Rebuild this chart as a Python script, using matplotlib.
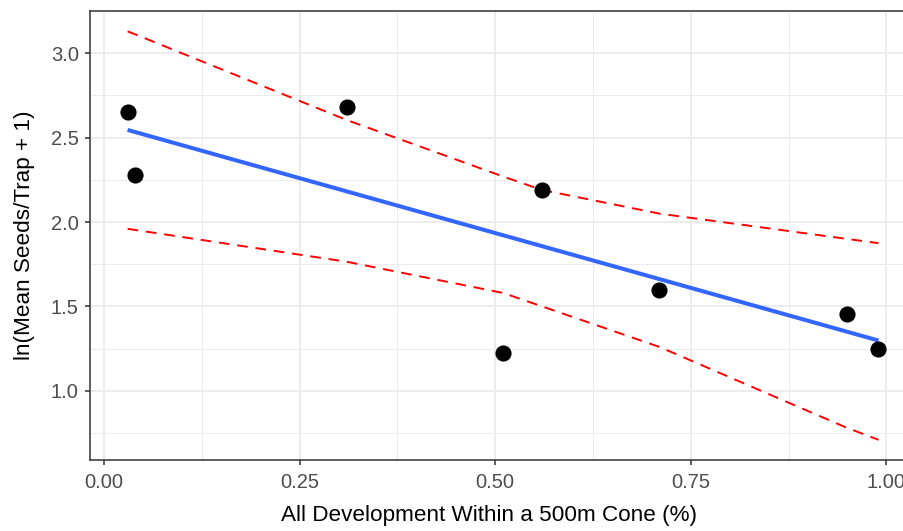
import numpy as np
import matplotlib
matplotlib.use("Agg")
import matplotlib.pyplot as plt

plt.rcParams['font.family'] = ['Liberation Sans', 'DejaVu Sans']

# observed points
dev = [0.03, 0.04, 0.31, 0.51, 0.56, 0.71, 0.95, 0.99]
seeds = [2.655, 2.28, 2.68, 1.225, 2.19, 1.60, 1.455, 1.25]

# fitted line
fit_x = [0.03, 0.99]
fit_y = [2.546, 1.298]

# prediction band edges
band_x = [0.03, 0.04, 0.31, 0.51, 0.56, 0.71, 0.95, 0.99]
upper = [3.13, 3.112, 2.605, 2.27, 2.19, 2.05, 1.90, 1.875]
lower = [1.96, 1.953, 1.765, 1.58, 1.50, 1.26, 0.78, 0.71]

xticks = [0.0, 0.25, 0.5, 0.75, 1.0]
xticklabels = ['0.00', '0.25', '0.50', '0.75', '1.00']
yticks = [1.0, 1.5, 2.0, 2.5, 3.0]

fig = plt.figure(figsize=(9.04, 5.31), dpi=100)
ax = fig.add_axes([0.0996, 0.1337, 0.9137, 0.846])

ax.plot(band_x, upper, color='red', lw=1.4, dashes=(5.5, 4), zorder=2)
ax.plot(band_x, lower, color='red', lw=1.4, dashes=(5.5, 4), zorder=2)
ax.plot(fit_x, fit_y, color='#3366FF', lw=2.9, solid_capstyle='butt', zorder=3)
ax.scatter(dev, seeds, s=135, color='black', zorder=4, linewidths=0)

ax.set_xlim(-0.018, 1.038)
ax.set_ylim(0.59, 3.252)

ax.set_xticks(xticks)
ax.set_xticklabels(xticklabels)
ax.set_yticks(yticks)
ax.set_xticks([0.125, 0.375, 0.625, 0.875], minor=True)
ax.set_yticks([0.75, 1.25, 1.75, 2.25, 2.75, 3.25], minor=True)

ax.grid(which='major', color='#EBEBEB', lw=1.3)
ax.grid(which='minor', color='#EBEBEB', lw=0.7)
ax.set_axisbelow(True)

for s in ax.spines.values():
    s.set_color('#333333')
    s.set_linewidth(1.1)

ax.tick_params(which='major', length=3.6, width=1.1, color='#333333',
               labelsize=14.5, labelcolor='#4D4D4D')
ax.tick_params(axis='x', which='major', pad=6)
ax.tick_params(axis='y', which='major', pad=4.5)
ax.tick_params(which='minor', length=0)

ax.set_xlabel('All Development Within a 500m Cone (%)', fontsize=16.2, va='center')
ax.set_ylabel('ln(Mean Seeds/Trap + 1)', fontsize=16.2, va='center')
ax.xaxis.set_label_coords(0.4825, -0.1246)
ax.yaxis.set_label_coords(-0.0798, 0.5)

fig.savefig('out.png', dpi=100)
